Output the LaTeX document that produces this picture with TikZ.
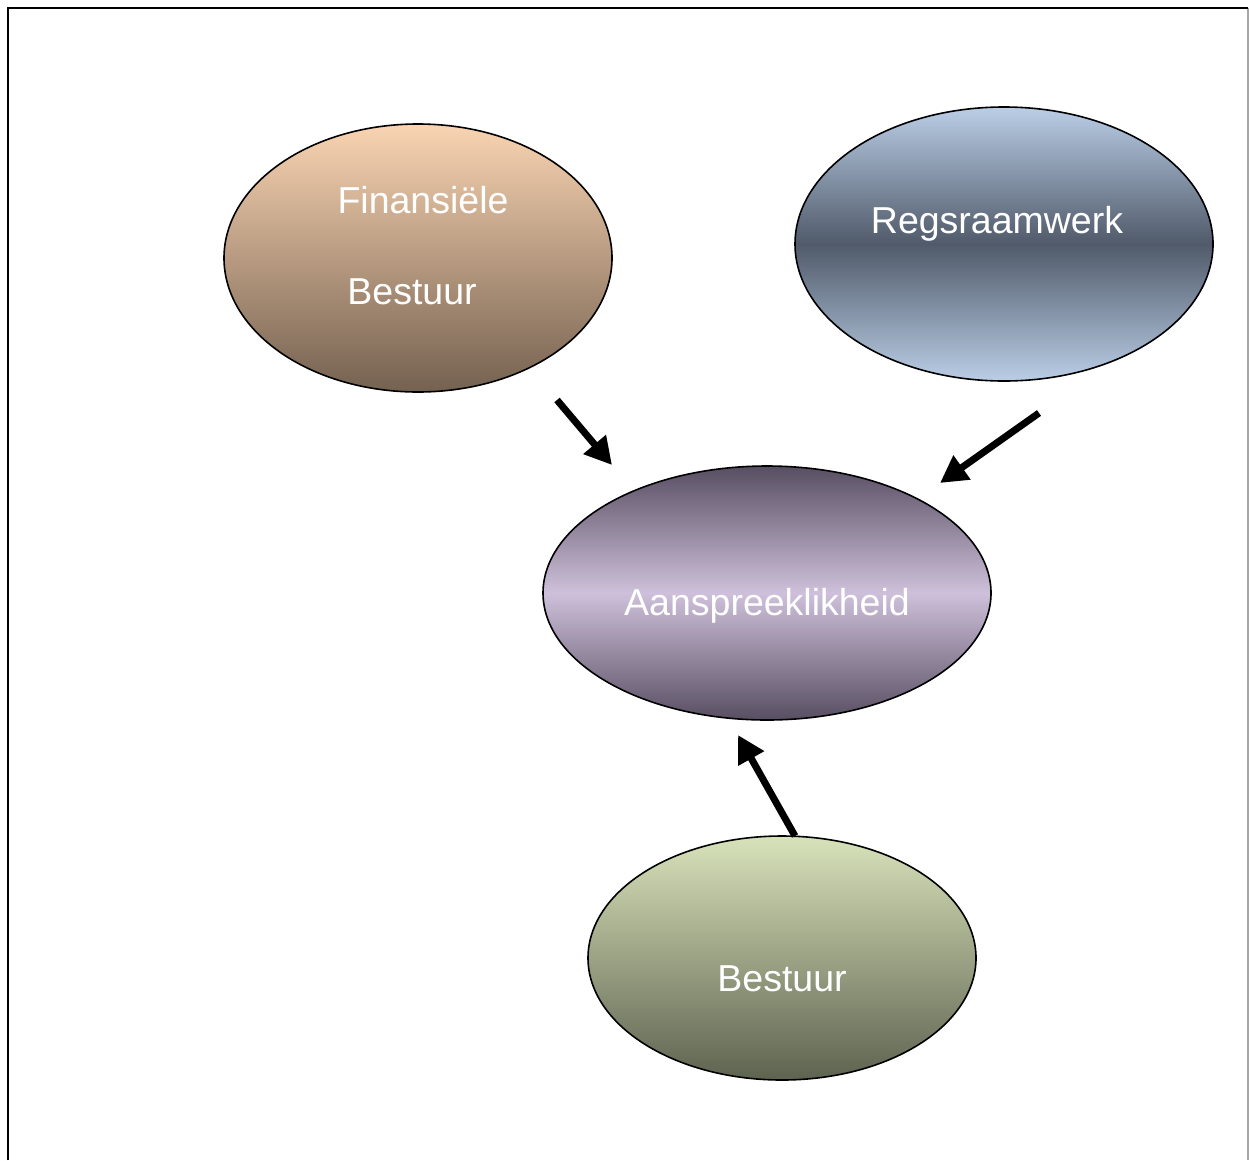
\documentclass[tikz,border=0pt]{standalone}
\usepackage{fontspec}
\setmainfont{Liberation Sans}
\usetikzlibrary{arrows.meta}
\definecolor{peachT}{RGB}{250,212,178}
\definecolor{peachB}{RGB}{116,97,80}
\definecolor{blueL}{RGB}{186,206,230}
\definecolor{blueD}{RGB}{80,90,106}
\definecolor{lilacL}{RGB}{206,192,218}
\definecolor{lilacD}{RGB}{88,78,98}
\definecolor{greenT}{RGB}{216,226,186}
\definecolor{greenB}{RGB}{94,99,80}
\tikzset{
  bubble/.style={draw=black, line width=1.6pt},
  lbl/.style={text=white, font=\fontsize{37.5}{45}\selectfont, anchor=base, inner sep=0pt},
  flow/.style={line width=7pt, -{Triangle[length=27pt,width=28pt]}},
}
\begin{document}
\begin{tikzpicture}[x=1pt,y=-1pt]
\useasboundingbox (0,0) rectangle (1249,1160);
% page frame
\draw[gray!70, line width=1.5pt] (1248,8) -- (1248,1160);
\draw[black, line width=2.5pt] (8,1160) -- (8,8) -- (1248,8);

% ellipses
\path[bubble, top color=peachT, bottom color=peachB]
  (418,258) ellipse [x radius=194, y radius=134];
\node (fin) at (418,258) {};
\path[bubble, top color=blueL, bottom color=blueL, middle color=blueD]
  (1004,244) ellipse [x radius=209, y radius=137];
\node (reg) at (1004,244) {};
\path[bubble, top color=lilacD, bottom color=lilacD, middle color=lilacL]
  (767,593) ellipse [x radius=224, y radius=127];
\node (aan) at (767,593) {};
\path[bubble, top color=greenT, bottom color=greenB]
  (782,958) ellipse [x radius=194, y radius=122];
\node (bes) at (782,958) {};

% labels
\node[lbl] (t1) at (423,213) {Finansiële};
\node[lbl] (t2) at (412,304) {Bestuur};
\node[lbl] (t3) at (997,233) {Regsraamwerk};
\node[lbl] (t4) at (767,615) {Aanspreeklikheid};
\node[lbl] (t5) at (782,991) {Bestuur};

% arrows
\coordinate (a1s) at (557,400);
\coordinate (a1e) at (612,465);
\coordinate (a2s) at (1039,413);
\coordinate (a2e) at (940,483);
\coordinate (a3s) at (795,836);
\coordinate (a3e) at (738,735);
\draw[flow] (a1s) -- (a1e);
\draw[flow] (a2s) -- (a2e);
\draw[flow] (a3s) -- (a3e);
\end{tikzpicture}
\end{document}
